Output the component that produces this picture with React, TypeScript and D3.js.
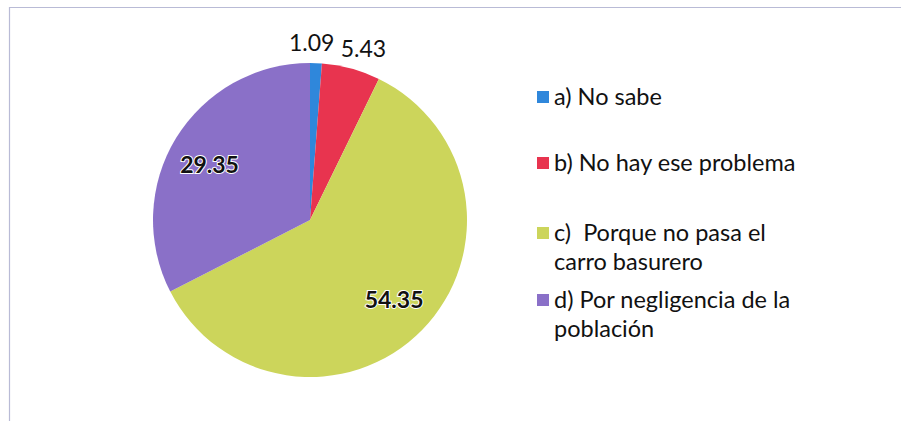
import { useEffect, useRef } from 'react';
import * as d3 from 'd3';

// Datos del gráfico (porcentajes tal cual aparecen en las etiquetas)
const categories = [
  'a) No sabe',
  'b) No hay ese problema',
  'c)  Porque no pasa el carro basurero',
  'd) Por negligencia de la población',
];
const values = [1.09, 5.43, 54.35, 29.35];
const colors = ['#2f87db', '#e8344f', '#ccd55b', '#8a70c8'];
// líneas de la leyenda (el texto largo se parte en dos)
const legendLines = [
  ['a) No sabe'],
  ['b) No hay ese problema'],
  ['c)  Porque no pasa el', 'carro basurero'],
  ['d) Por negligencia de la', 'población'],
];
// etiquetas fuera del pastel para las porciones chicas
const outsideLabel = [true, true, false, false];

const W = 901;
const H = 421;
const FONT = 'Lato, "Open Sans", sans-serif';

const App = () => {
  const svgRef = useRef<SVGSVGElement | null>(null);

  useEffect(() => {
    if (!svgRef.current) return;
    const svg = d3.select(svgRef.current);
    svg.selectAll('*').remove();

    // marco escaneado (solo borde superior e izquierdo visibles)
    svg.append('path')
      .attr('d', `M9.5,${H}V7.5H${W}`)
      .attr('fill', 'none')
      .attr('stroke', '#b9bbd6')
      .attr('stroke-width', 1.2);

    const cx = 310, cy = 220, r = 157;
    const g = svg.append('g').attr('transform', `translate(${cx},${cy})`);

    const pie = d3.pie<number>().sort(null).value(d => d);
    const arcs = pie(values);
    const arc = d3.arc<d3.PieArcDatum<number>>().innerRadius(0).outerRadius(r);
    const inLabel = d3.arc<d3.PieArcDatum<number>>().innerRadius(r * 0.75).outerRadius(r * 0.75);
    const outLabel = d3.arc<d3.PieArcDatum<number>>().innerRadius(r + 20).outerRadius(r + 20);
    // pequeño ajuste de las etiquetas para imitar la colocación de Excel
    const nudge = [[-5, 0], [7, 0], [0, -3], [0, 6]];

    g.selectAll('path.slice').data(arcs).enter().append('path')
      .attr('class', 'slice')
      .attr('d', arc)
      .attr('fill', (_, i) => colors[i])
      .attr('stroke', 'none');

    g.selectAll('text.val').data(arcs).enter().append('text')
      .attr('class', 'val')
      .attr('transform', (d, i) => {
        const [x, y] = (outsideLabel[i] ? outLabel : inLabel).centroid(d);
        return `translate(${x + nudge[i][0]},${y + nudge[i][1]})`;
      })
      .attr('text-anchor', 'middle')
      .attr('dy', '0.35em')
      .attr('font-family', FONT)
      .attr('font-size', 23)
      .attr('font-weight', (_, i) => (outsideLabel[i] ? 400 : 700))
      .attr('fill', '#111')
      .attr('stroke', (_, i) => (outsideLabel[i] ? 'none' : '#ffffff'))
      .attr('stroke-width', 2)
      .attr('paint-order', 'stroke')
      .text(d => d.data.toFixed(2));

    // Leyenda
    const legendX = 537;
    const legendY = [97, 163, 233, 300];
    const lineH = 29;
    const lg = svg.append('g');
    categories.forEach((_, i) => {
      lg.append('rect')
        .attr('x', legendX)
        .attr('y', legendY[i] - 6)
        .attr('width', 12)
        .attr('height', 12)
        .attr('fill', colors[i]);
      legendLines[i].forEach((line, j) => {
        lg.append('text')
          .attr('x', legendX + 17)
          .attr('y', legendY[i] + j * lineH)
          .attr('dy', '0.35em')
          .attr('font-family', FONT)
          .attr('font-size', 23.5)
          .attr('fill', '#111')
          .style('white-space', 'pre')
          .text(line);
      });
    });
  }, []);

  return (
    <svg
      ref={svgRef}
      width={W}
      height={H}
      style={{ position: 'absolute', left: 0, top: 0, display: 'block', background: '#fff' }}
    />
  );
};

export default App;
